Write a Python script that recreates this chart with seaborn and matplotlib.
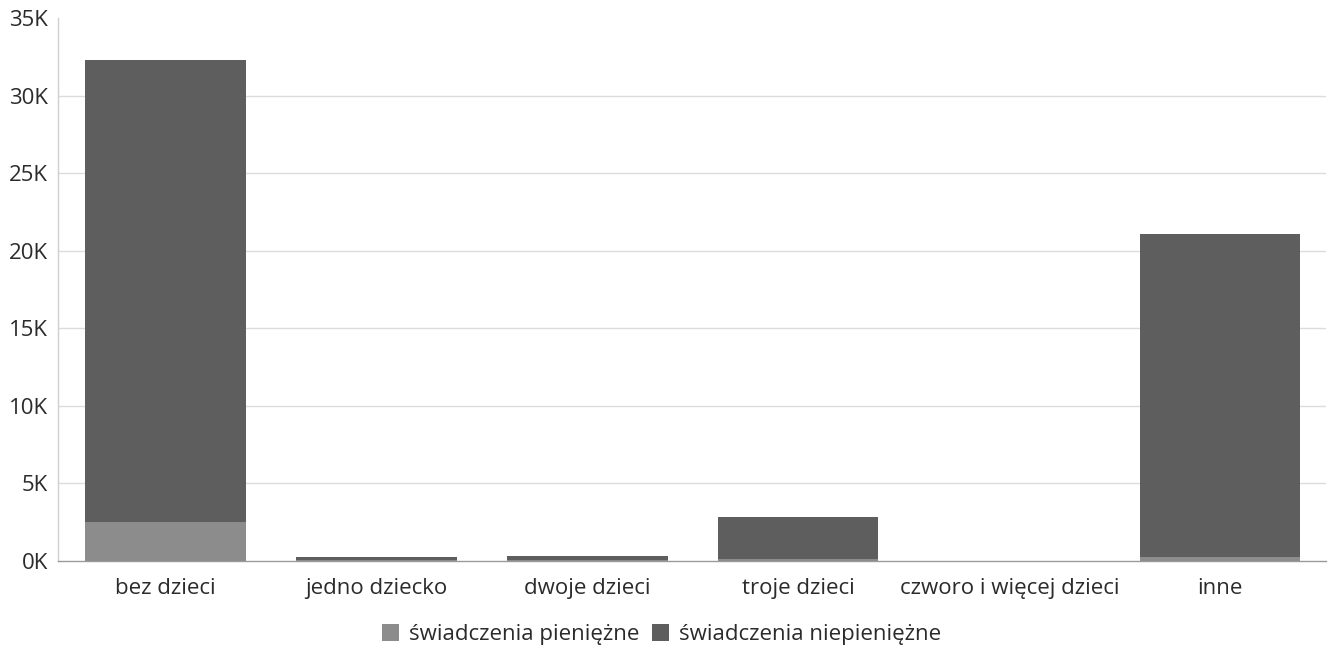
import matplotlib
matplotlib.use("Agg")
import matplotlib.pyplot as plt
import seaborn as sns
import pandas as pd
from matplotlib.patches import Patch
from matplotlib.ticker import FuncFormatter

categories = ["bez dzieci", "jedno dziecko", "dwoje dzieci", "troje dzieci",
              "czworo i więcej dzieci", "inne"]
pieniezne = [2500, 40, 50, 100, 0, 250]
niepieniezne = [29800, 210, 280, 2750, 0, 20850]
series_names = ["świadczenia pieniężne", "świadczenia niepieniężne"]
y_ticks = [0, 5000, 10000, 15000, 20000, 25000, 30000, 35000]

col_pien = "#8c8c8c"
col_niepien = "#5e5e5e"
txt = "#2b2b2b"

sns.set_theme(style="white")
plt.rcParams["font.family"] = ["Open Sans", "DejaVu Sans"]

df = pd.DataFrame({"kategoria": categories,
                   "pien": pieniezne,
                   "total": [a + b for a, b in zip(pieniezne, niepieniezne)]})

fig = plt.figure(figsize=(13.31, 6.49), dpi=100)
ax = fig.add_axes([0.0435, 0.1356, 0.9525, 0.8364])

sns.barplot(data=df, x="kategoria", y="total", color=col_niepien, saturation=1,
            width=0.76, ax=ax, linewidth=0, zorder=3)
sns.barplot(data=df, x="kategoria", y="pien", color=col_pien, saturation=1,
            width=0.76, ax=ax, linewidth=0, zorder=3)

ax.set_ylim(0, 35000)
ax.set_xlim(-0.51, 5.5)
ax.set_yticks(y_ticks)
ax.yaxis.set_major_formatter(FuncFormatter(lambda v, p: f"{int(v/1000)}K"))
ax.set_xlabel("")
ax.set_ylabel("")
for y in y_ticks[1:-1]:
    ax.axhline(y, color="#dcdcdc", linewidth=1, zorder=1)

for s in ["top", "right"]:
    ax.spines[s].set_visible(False)
ax.spines["left"].set_color("#cfcfcf")
ax.spines["bottom"].set_color("#9a9a9a")
ax.spines["left"].set_linewidth(1)
ax.spines["bottom"].set_linewidth(1)

ax.tick_params(axis="y", labelsize=16, colors=txt, length=0, pad=7)
ax.tick_params(axis="x", labelsize=16, colors=txt, length=0, pad=12)

handles = [Patch(facecolor=col_pien, edgecolor="none"),
           Patch(facecolor=col_niepien, edgecolor="none")]
leg = fig.legend(handles, series_names, loc="center", bbox_to_anchor=(0.497, 0.022),
                 ncol=2, frameon=False, fontsize=16, handlelength=0.75,
                 handleheight=0.75, handletextpad=0.45, columnspacing=0.6,
                 borderpad=0)
for t in leg.get_texts():
    t.set_color(txt)

fig.savefig("out.png", dpi=100)
